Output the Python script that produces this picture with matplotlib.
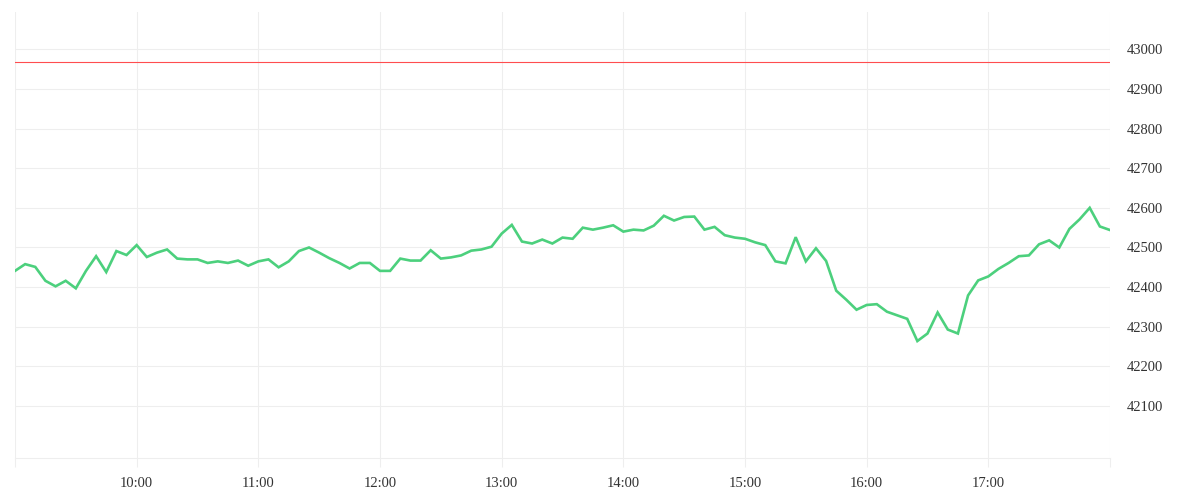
import matplotlib.pyplot as plt
import pandas as pd

# 5-minute prices from 09:00 to 18:00
prices = [
    42441, 42458, 42451, 42416, 42402, 42416, 42397, 42441, 42478, 42438,
    42491, 42481, 42506, 42476, 42487, 42495, 42472, 42470, 42470, 42461,
    42465, 42461, 42467, 42454, 42465, 42470, 42450, 42465, 42491, 42500,
    42487, 42473, 42461, 42447, 42461, 42461, 42441, 42441, 42472, 42467,
    42467, 42493, 42472, 42475, 42480, 42492, 42495, 42502, 42535, 42557,
    42515, 42510, 42520, 42510, 42525, 42522, 42550, 42545, 42550, 42556,
    42540, 42545, 42543, 42555, 42580, 42568, 42577, 42578, 42545, 42552,
    42531, 42525, 42522, 42513, 42506, 42465, 42460, 42526, 42465, 42498,
    42466, 42391, 42368, 42343, 42355, 42357, 42338, 42329, 42320, 42264,
    42283, 42336, 42293, 42283, 42379, 42417, 42427, 42446, 42461, 42478,
    42480, 42508, 42518, 42500, 42547, 42571, 42600, 42553, 42544,
]
times = pd.date_range('2024-01-01 09:00', periods=len(prices), freq='5min')

ref_level = 42968
y_ticks = [42100, 42200, 42300, 42400, 42500, 42600, 42700, 42800, 42900, 43000]
hour_ticks = pd.date_range('2024-01-01 09:00', '2024-01-01 18:00', freq='1h')
hour_labels = ['', '10:00', '11:00', '12:00', '13:00', '14:00', '15:00', '16:00', '17:00', '']

grid_c = '#eeeeee'
text_c = '#333333'

fig = plt.figure(figsize=(12, 5), dpi=100)
ax = fig.add_axes([0.0125, 0.084, 0.9125, 0.892])

ax.axhline(ref_level, color='#ff4d4f', lw=0.8, zorder=2)
ax.plot(times, prices, color='#4cd07d', lw=1.9, zorder=3, solid_joinstyle='miter')

ax.set_xlim(hour_ticks[0], hour_ticks[-1])
ax.set_ylim(41969, 43094)

ax.set_xticks(hour_ticks)
ax.set_xticklabels(hour_labels, family='Liberation Serif', fontsize=10.5, color=text_c)
ax.set_yticks(y_ticks)
ax.set_yticklabels([str(v) for v in y_ticks], family='Liberation Serif', fontsize=10.5, color=text_c)
ax.yaxis.tick_right()

ax.tick_params(axis='x', length=6.5, width=0.8, color=grid_c, pad=7)
ax.tick_params(axis='y', length=0, pad=12)
ax.grid(True, color=grid_c, lw=0.8, zorder=0)

for s in ['top', 'left', 'right']:
    ax.spines[s].set_visible(False)
ax.spines['bottom'].set_color(grid_c)
ax.spines['bottom'].set_linewidth(0.8)

fig.savefig('out.png', dpi=100)
